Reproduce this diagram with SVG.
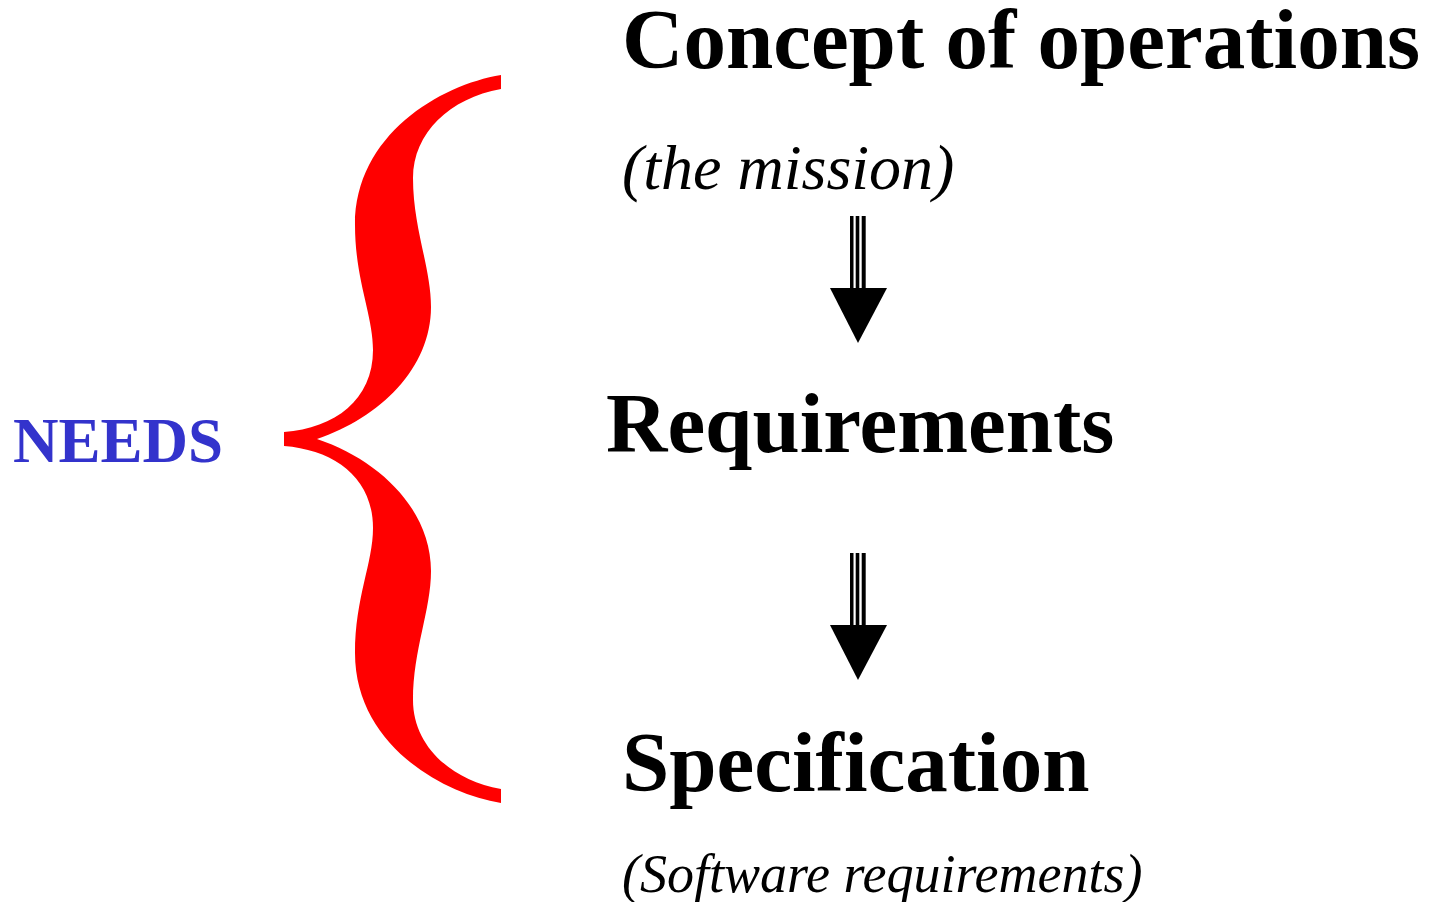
<svg xmlns="http://www.w3.org/2000/svg" width="1438" height="902" viewBox="0 0 1438 902">
<style>
.b{font-family:"Liberation Serif","Times New Roman",serif;font-weight:bold;font-size:85px;fill:#000}
.i{font-family:"Liberation Serif","Times New Roman",serif;font-style:italic;fill:#000}
.needs{font-family:"Liberation Serif","Times New Roman",serif;font-weight:bold;font-size:63px;fill:#3333CC}
</style>
<defs>
<g id="arrow">
<rect x="850" y="0" width="3.5" height="74" fill="#000"/>
<rect x="855.7" y="0" width="3.6" height="74" fill="#000"/>
<rect x="861.7" y="0" width="4" height="74" fill="#000"/>
<polygon points="830,72 887,72 858,127" fill="#000"/>
</g>
</defs>
<rect width="1438" height="902" fill="#fff"/>
<g id="brace">
<path fill="#FF0000" d="M501,75 C440,85 355,135 355,225 C355,280 373,315 373,350 C373,400 335,428 284,432 L284,446 C335,450 373,478 373,528 C373,563 355,598 355,653 C355,743 440,793 501,803 L501,789 C450,780 413,745 413,700 C413,650 431,610 431,571 C431,510 380,460 317,439 C380,418 431,368 431,307 C431,268 413,228 413,178 C413,133 450,98 501,89 Z"/>
</g>
<g id="needs"><text class="needs" x="13" y="462">NEEDS</text></g>
<g id="concept">
<text class="b" x="622" y="68">Concept of operations</text>
<text class="i" x="622" y="189" font-size="64">(the mission)</text>
</g>
<g id="requirements"><text class="b" x="606" y="452">Requirements</text></g>
<g id="specification">
<text class="b" x="622" y="791">Specification</text>
<text class="i" x="622" y="892" font-size="54">(Software requirements)</text>
</g>
<g id="connectors">
<use href="#arrow" transform="translate(0,216)"/>
<use href="#arrow" transform="translate(0,553)"/>
</g>
</svg>
